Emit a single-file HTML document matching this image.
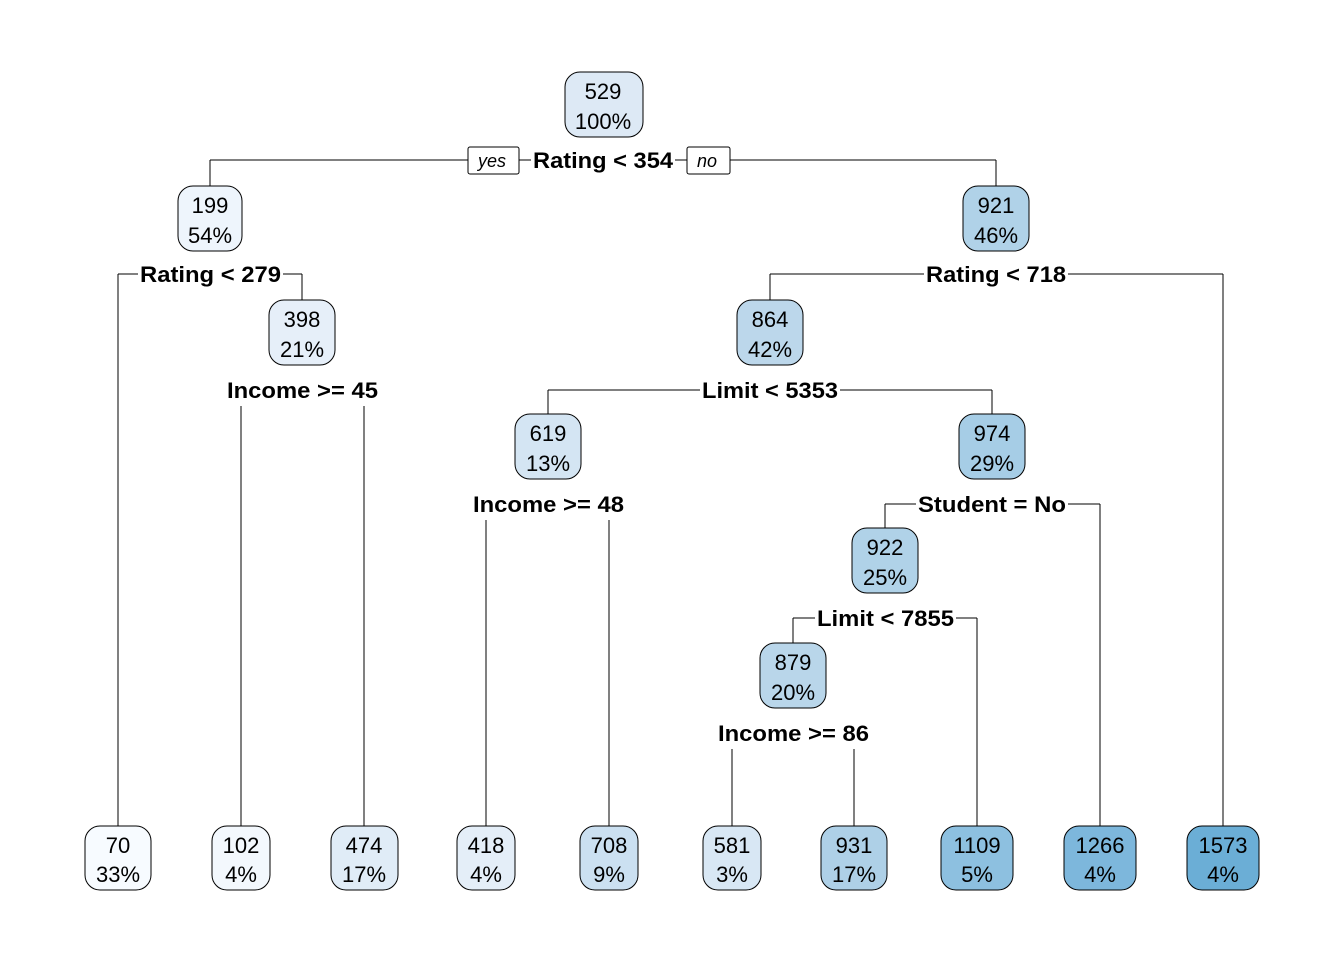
<!DOCTYPE html>
<html><head><style>body{margin:0;background:#fff}</style></head><body>
<svg width="1344" height="960" xmlns="http://www.w3.org/2000/svg" font-family="Liberation Sans, Arial, sans-serif">
<g stroke="#000" stroke-width="1" fill="none">
<path d="M210 160H996M210 160V186M996 160V186"/>
<path d="M118 274H302M118 274V826M302 274V300"/>
<path d="M241 390H364M241 390V826M364 390V826"/>
<path d="M770 274H1223M770 274V300M1223 274V826"/>
<path d="M548 390H992M548 390V414M992 390V414"/>
<path d="M486 504H609M486 504V826M609 504V826"/>
<path d="M885 504H1100M885 504V528M1100 504V826"/>
<path d="M793 618H977M793 618V643M977 618V826"/>
<path d="M732 733H854M732 733V826M854 733V826"/>
</g>
<g font-weight="bold" font-size="22" text-anchor="middle" lengthAdjust="spacingAndGlyphs">
<rect x="531" y="148" width="144" height="24" fill="#fff"/><text x="603" y="168" textLength="140" lengthAdjust="spacingAndGlyphs">Rating &lt; 354</text>
<rect x="138" y="262" width="145" height="24" fill="#fff"/><text x="210.5" y="282" textLength="141" lengthAdjust="spacingAndGlyphs">Rating &lt; 279</text>
<rect x="225" y="378" width="155" height="28" fill="#fff"/><text x="302.5" y="398" textLength="151" lengthAdjust="spacingAndGlyphs">Income &gt;= 45</text>
<rect x="924" y="262" width="144" height="24" fill="#fff"/><text x="996" y="282" textLength="140" lengthAdjust="spacingAndGlyphs">Rating &lt; 718</text>
<rect x="700" y="378" width="140" height="24" fill="#fff"/><text x="770" y="398" textLength="136" lengthAdjust="spacingAndGlyphs">Limit &lt; 5353</text>
<rect x="471" y="492" width="155" height="28" fill="#fff"/><text x="548.5" y="512" textLength="151" lengthAdjust="spacingAndGlyphs">Income &gt;= 48</text>
<rect x="916" y="492" width="152" height="24" fill="#fff"/><text x="992" y="512" textLength="148" lengthAdjust="spacingAndGlyphs">Student = No</text>
<rect x="815" y="606" width="141" height="24" fill="#fff"/><text x="885.5" y="626" textLength="137" lengthAdjust="spacingAndGlyphs">Limit &lt; 7855</text>
<rect x="716" y="721" width="155" height="28" fill="#fff"/><text x="793.5" y="741" textLength="151" lengthAdjust="spacingAndGlyphs">Income &gt;= 86</text>
</g>
<g font-style="italic" font-size="18" text-anchor="middle">
<rect x="468" y="147" width="51" height="27" rx="2" fill="#fff" stroke="#000"/><text x="492" y="167">yes</text>
<rect x="687" y="147" width="43" height="27" rx="2" fill="#fff" stroke="#000"/><text x="707" y="167">no</text>
</g>
<g font-size="22" text-anchor="middle" stroke="#000">
<g><rect x="565" y="72" width="78" height="65" rx="15" fill="#dde9f5"/><text stroke="none" x="603" y="99">529</text><text stroke="none" x="603" y="129">100%</text></g>
<g><rect x="178" y="186" width="64" height="65" rx="15" fill="#eef5fc"/><text stroke="none" x="210" y="213">199</text><text stroke="none" x="210" y="243">54%</text></g>
<g><rect x="963" y="186" width="66" height="65" rx="15" fill="#b0d2e8"/><text stroke="none" x="996" y="213">921</text><text stroke="none" x="996" y="243">46%</text></g>
<g><rect x="269" y="300" width="66" height="65" rx="15" fill="#e6eff9"/><text stroke="none" x="302" y="327">398</text><text stroke="none" x="302" y="357">21%</text></g>
<g><rect x="737" y="300" width="66" height="65" rx="15" fill="#bcd7eb"/><text stroke="none" x="770" y="327">864</text><text stroke="none" x="770" y="357">42%</text></g>
<g><rect x="515" y="414" width="66" height="65" rx="15" fill="#d4e5f3"/><text stroke="none" x="548" y="441">619</text><text stroke="none" x="548" y="471">13%</text></g>
<g><rect x="959" y="414" width="66" height="65" rx="15" fill="#a6cde6"/><text stroke="none" x="992" y="441">974</text><text stroke="none" x="992" y="471">29%</text></g>
<g><rect x="852" y="528" width="66" height="65" rx="15" fill="#b0d2e8"/><text stroke="none" x="885" y="555">922</text><text stroke="none" x="885" y="585">25%</text></g>
<g><rect x="760" y="643" width="66" height="65" rx="15" fill="#b9d6ea"/><text stroke="none" x="793" y="670">879</text><text stroke="none" x="793" y="700">20%</text></g>
<g><rect x="85" y="826" width="66" height="64" rx="15" fill="#f7fbff"/><text stroke="none" x="118" y="853">70</text><text stroke="none" x="118" y="882">33%</text></g>
<g><rect x="212" y="826" width="58" height="64" rx="15" fill="#f3f8fd"/><text stroke="none" x="241" y="853">102</text><text stroke="none" x="241" y="882">4%</text></g>
<g><rect x="331" y="826" width="67" height="64" rx="15" fill="#e0ecf7"/><text stroke="none" x="364" y="853">474</text><text stroke="none" x="364" y="882">17%</text></g>
<g><rect x="457" y="826" width="58" height="64" rx="15" fill="#e4eef8"/><text stroke="none" x="486" y="853">418</text><text stroke="none" x="486" y="882">4%</text></g>
<g><rect x="580" y="826" width="58" height="64" rx="15" fill="#cbe0f1"/><text stroke="none" x="609" y="853">708</text><text stroke="none" x="609" y="882">9%</text></g>
<g><rect x="703" y="826" width="58" height="64" rx="15" fill="#d8e7f4"/><text stroke="none" x="732" y="853">581</text><text stroke="none" x="732" y="882">3%</text></g>
<g><rect x="821" y="826" width="66" height="64" rx="15" fill="#aed0e7"/><text stroke="none" x="854" y="853">931</text><text stroke="none" x="854" y="882">17%</text></g>
<g><rect x="941" y="826" width="72" height="64" rx="15" fill="#8dc0e0"/><text stroke="none" x="977" y="853">1109</text><text stroke="none" x="977" y="882">5%</text></g>
<g><rect x="1064" y="826" width="72" height="64" rx="15" fill="#7db7dc"/><text stroke="none" x="1100" y="853">1266</text><text stroke="none" x="1100" y="882">4%</text></g>
<g><rect x="1187" y="826" width="72" height="64" rx="15" fill="#6baed6"/><text stroke="none" x="1223" y="853">1573</text><text stroke="none" x="1223" y="882">4%</text></g>
</g>
</svg>
</body></html>
